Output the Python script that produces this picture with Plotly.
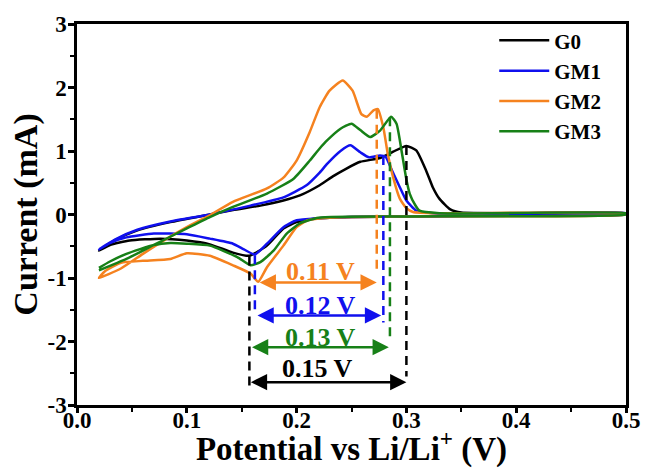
import plotly.graph_objects as go

# ---------------- data ----------------
g0_v = [0.02, 0.035, 0.055, 0.085, 0.121, 0.142, 0.167, 0.188, 0.203, 0.221, 0.233, 0.245, 0.258, 0.276, 0.288,
        0.300, 0.309, 0.318, 0.324, 0.330, 0.340, 0.350, 0.400, 0.500,
        0.500, 0.400, 0.300, 0.250, 0.220, 0.200, 0.188, 0.173, 0.157, 0.142, 0.121, 0.100, 0.076, 0.048, 0.030, 0.020]
g0_i = [-0.57, -0.40, -0.25, -0.12, 0.00, 0.07, 0.14, 0.22, 0.30, 0.46, 0.60, 0.72, 0.83, 0.89, 0.99,
        1.08, 1.01, 0.69, 0.43, 0.25, 0.08, 0.03, 0.02, 0.02,
        0.00, -0.02, -0.03, -0.04, -0.06, -0.12, -0.22, -0.49, -0.65, -0.60, -0.47, -0.41, -0.38, -0.41, -0.48, -0.57]

gm1_v = [0.02, 0.035, 0.055, 0.085, 0.121, 0.158, 0.188, 0.209, 0.221, 0.228, 0.240, 0.249, 0.258, 0.266, 0.276,
         0.281, 0.287, 0.294, 0.300, 0.309, 0.324, 0.400, 0.500,
         0.500, 0.400, 0.300, 0.250, 0.220, 0.200, 0.188, 0.173, 0.162, 0.152, 0.142, 0.121, 0.100, 0.070, 0.045, 0.030, 0.020]
gm1_i = [-0.55, -0.39, -0.24, -0.11, 0.00, 0.14, 0.27, 0.46, 0.66, 0.80, 1.00, 1.09, 0.98, 0.90, 0.93,
         0.91, 0.69, 0.43, 0.22, 0.06, 0.02, 0.02, 0.02,
         0.00, -0.02, -0.03, -0.04, -0.06, -0.09, -0.20, -0.46, -0.63, -0.55, -0.46, -0.38, -0.31, -0.30, -0.36, -0.45, -0.55]

gm2_v = [0.02, 0.04, 0.06, 0.08, 0.10, 0.12, 0.142, 0.173, 0.188, 0.200, 0.212, 0.221, 0.230, 0.242, 0.251, 0.259,
         0.264, 0.270, 0.274, 0.279, 0.283, 0.288, 0.294, 0.300, 0.306, 0.330, 0.500,
         0.500, 0.300, 0.230, 0.210, 0.200, 0.188, 0.173, 0.165, 0.158, 0.142, 0.121, 0.100, 0.085, 0.060, 0.040, 0.025, 0.020]
gm2_i = [-1.00, -0.85, -0.62, -0.40, -0.20, -0.02, 0.20, 0.41, 0.58, 0.85, 1.30, 1.69, 1.95, 2.11, 1.95, 1.58,
         1.54, 1.64, 1.66, 1.37, 0.96, 0.58, 0.25, 0.10, 0.04, 0.02, 0.02,
         0.00, -0.03, -0.05, -0.09, -0.20, -0.49, -0.83, -1.06, -0.93, -0.80, -0.65, -0.61, -0.70, -0.73, -0.76, -0.90, -1.00]

gm3_v = [0.02, 0.045, 0.07, 0.10, 0.121, 0.142, 0.173, 0.197, 0.212, 0.221, 0.228, 0.240, 0.250, 0.258, 0.267,
         0.276, 0.286, 0.291, 0.296, 0.300, 0.303, 0.308, 0.312, 0.330, 0.500,
         0.500, 0.300, 0.220, 0.203, 0.191, 0.179, 0.167, 0.158, 0.146, 0.121, 0.100, 0.085, 0.070, 0.045, 0.030, 0.020]
gm3_i = [-0.88, -0.70, -0.48, -0.22, -0.04, 0.12, 0.33, 0.56, 0.85, 1.04, 1.17, 1.35, 1.43, 1.33, 1.22,
         1.32, 1.54, 1.43, 0.96, 0.55, 0.33, 0.15, 0.06, 0.02, 0.02,
         0.00, -0.03, -0.05, -0.14, -0.30, -0.57, -0.75, -0.80, -0.67, -0.49, -0.46, -0.45, -0.48, -0.62, -0.74, -0.84]

series_names = ["G0", "GM1", "GM2", "GM3"]
series_colors = ["#000000", "#1010EE", "#F5821F", "#178017"]

# peak-separation markers (potentials in V, currents in mA)
sep_labels = ["0.11 V", "0.12 V", "0.13 V", "0.15 V"]
sep_colors = ["#F5821F", "#1010EE", "#178017", "#000000"]
sep_x_start = [0.165, 0.163, 0.158, 0.157]
sep_x_end = [0.273, 0.277, 0.284, 0.300]
sep_y = [-1.07, -1.59, -2.09, -2.64]
sep_label_x = [0.222, 0.222, 0.222, 0.219]
sep_label_y = [-0.90, -1.43, -1.94, -2.43]

# dashed guide lines: x, y_top, y_bottom, colour
guide_x = [0.157, 0.300, 0.162, 0.279, 0.285, 0.273]
guide_top = [-0.66, 1.08, -0.64, 0.92, 1.53, 1.65]
guide_bottom = [-2.72, -2.55, -1.58, -1.70, -2.00, -0.95]
guide_colors = ["#000000", "#000000", "#1010EE", "#1010EE", "#178017", "#F5821F"]

x_ticks = [0.0, 0.1, 0.2, 0.3, 0.4, 0.5]
y_ticks = [-3, -2, -1, 0, 1, 2, 3]
y_tick_labels = ["-3", "-2", "-1", "0", "1", "2", "3"]

FONT = "Liberation Serif, Times New Roman, serif"

fig = go.Figure()
for name, col, v, i in zip(series_names, series_colors,
                           [g0_v, gm1_v, gm2_v, gm3_v], [g0_i, gm1_i, gm2_i, gm3_i]):
    fig.add_trace(go.Scatter(x=v, y=i, mode="lines", name=name,
                             line=dict(color=col, width=2.5, shape="spline", smoothing=0.5)))

for gx, gt, gb, gc in zip(guide_x, guide_top, guide_bottom, guide_colors):
    fig.add_shape(type="line", x0=gx, x1=gx, y0=gt, y1=gb, xref="x", yref="y",
                  line=dict(color=gc, width=2.5, dash="9px,6px"))

for lab, col, xs, xe, yy, lx, ly in zip(sep_labels, sep_colors, sep_x_start, sep_x_end,
                                         sep_y, sep_label_x, sep_label_y):
    fig.add_annotation(x=xe, y=yy, ax=xs, ay=yy, xref="x", yref="y", axref="x", ayref="y",
                       text="", showarrow=True, arrowhead=2, arrowside="end+start",
                       arrowsize=1.3, arrowwidth=2.5, arrowcolor=col)
    fig.add_annotation(x=lx, y=ly, xref="x", yref="y", text=lab, showarrow=False,
                       font=dict(family=FONT, size=26, color=col, weight="bold"))

fig.update_layout(
    width=646, height=468,
    margin=dict(l=77, r=20, t=24, b=63),
    paper_bgcolor="white", plot_bgcolor="white",
    font=dict(family=FONT, color="black", weight="bold"),
    showlegend=True,
    legend=dict(x=0.76, y=1.01, xanchor="left", yanchor="top", bgcolor="rgba(0,0,0,0)",
                font=dict(family=FONT, size=21, color="black", weight="bold"),
                itemwidth=50, tracegroupgap=0),
)
fig.update_xaxes(range=[0, 0.5], tickvals=x_ticks, tickformat=".1f",
                 ticks="outside", ticklen=5, tickwidth=2.5, tickcolor="black",
                 minor=dict(dtick=0.05, ticks="outside", ticklen=4, tickwidth=2, tickcolor="black"),
                 showline=True, linewidth=2.5, linecolor="black", mirror=True,
                 showgrid=False, zeroline=False, ticklabelstandoff=-12,
                 tickfont=dict(family=FONT, size=23, color="black", weight="bold"),
                 title=dict(text="Potential vs Li/Li<sup>+</sup> (V)", standoff=12,
                            font=dict(family=FONT, size=33, color="black", weight="bold")),
                 automargin=False)
fig.update_yaxes(range=[-3, 3], tickvals=y_ticks, ticktext=y_tick_labels,
                 ticks="outside", ticklen=6, tickwidth=2.5, tickcolor="black",
                 minor=dict(dtick=0.5, ticks="outside", ticklen=4, tickwidth=2, tickcolor="black"),
                 showline=True, linewidth=2.5, linecolor="black", mirror=True,
                 showgrid=False, zeroline=False, ticklabelstandoff=-3,
                 tickfont=dict(family=FONT, size=23, color="black", weight="bold"),
                 title=dict(text="Current (mA)", standoff=0,
                            font=dict(family=FONT, size=34, color="black", weight="bold")),
                 automargin=False)

fig.write_html("out.html", config={"displayModeBar": False},
               post_script="document.body.style.margin='0';")
